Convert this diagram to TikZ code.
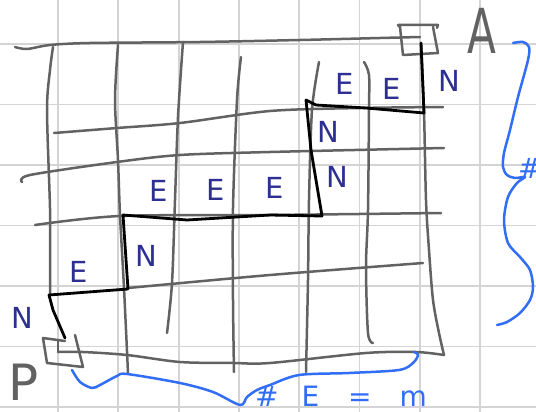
\documentclass[tikz,border=0pt]{standalone}
\usepackage{fontspec}
\setmainfont{DejaVu Sans}
\definecolor{paper}{RGB}{212,212,212}
\definecolor{pen}{RGB}{98,98,98}
\definecolor{ink}{RGB}{45,48,145}
\definecolor{bluepen}{RGB}{50,110,245}
\begin{document}
\begin{tikzpicture}[x=1pt,y=-1pt,line cap=round,line join=round,
  gridpaper/.style={draw=paper,line width=1.8pt},
  pencil/.style={draw=pen,line width=2.5pt},
  walk/.style={draw=black,line width=2.8pt},
  bracepen/.style={draw=bluepen,line width=2.5pt},
  lab/.style={text=ink,font=\fontsize{29}{29}\selectfont,inner sep=0pt},
  corner/.style={text=pen,inner sep=0pt}]
\useasboundingbox (0,0) rectangle (536,412);
\clip (0,0) rectangle (536,412);
\fill[white] (0,0) rectangle (536,412);
% graph paper
\foreach \k in {-1,...,8} \draw[gridpaper] ({58+60.3*\k},0) -- ({58+60.3*\k},412);
\foreach \k in {-1,...,6} \draw[gridpaper] (0,{44+60.5*\k}) -- (536,{44+60.5*\k});
% hand drawn horizontal lines
\draw[pencil] plot[smooth] coordinates {(15,47) (27,49) (50,45) (90,43) (200,42) (300,40) (380,38) (420,37)};
\draw[pencil] plot[smooth] coordinates {(54,133) (117,128) (180,123) (270,111) (360,108) (443,107)};
\draw[pencil] plot[smooth] coordinates {(22,182) (30,175) (117,162) (180,155) (270,152) (444,148)};
\draw[pencil] plot[smooth] coordinates {(35,225) (120,216) (270,215) (441,213)};
\draw[pencil] plot[smooth] coordinates {(128,288) (270,275) (423,263)};
\draw[pencil] plot[smooth] coordinates {(58,352) (83,352) (127,355) (180,362) (233,363) (270,363) (366,353) (416,352) (444,355)};
% hand drawn vertical lines
\draw[pencil] plot[smooth] coordinates {(53,47) (50,70) (47,110) (50,208) (50,250) (50,295)};
\draw[pencil] plot[smooth] coordinates {(118,45) (115,100) (118,160) (120,215) (124,288) (128,373)};
\draw[pencil] plot[smooth] coordinates {(183,42) (178,117) (175,200) (172,283) (167,333)};
\draw[pencil] plot[smooth] coordinates {(241,57) (237,100) (233,208) (233,300) (234,372)};
\draw[pencil] plot[smooth] coordinates {(319,62) (312,110) (309,200) (308,280) (306,372)};
\draw[pencil] plot[smooth] coordinates {(364,62) (369,75) (369,110) (368,210) (366,267) (368,333) (373,343)};
\draw[pencil] plot[smooth] coordinates {(421,43) (424,112) (426,200) (429,250) (433,300) (439,333) (444,355)};
\draw[pencil] (58,340) -- (58,352);
% corner squares
\draw[pencil] (437,28) -- (438,25) -- (398,25) -- (400,27) -- (403,55) -- (438,53) -- (433,27);
\draw[pencil] (65,341) -- (43,338) -- (47,363) -- (83,367) -- (75,335);
% the walk
\draw[walk] (65,338) -- (53,310) -- (49,295) -- (128,289) -- (123,215) -- (187,220) -- (270,215) -- (322,216) -- (311,150) -- (306,100) -- (316,105) -- (366,108) -- (424,113) -- (421,43);
% labels on the walk
\node[lab] (n1) at (22,318) {N};
\node[lab] (e1) at (79,272) {E};
\node[lab] (n2) at (146,256) {N};
\node[lab] (e2) at (159,191) {E};
\node[lab] (e3) at (216,190) {E};
\node[lab] (e4) at (275,188) {E};
\node[lab] (n3) at (337,177) {N};
\node[lab] (n4) at (328,132) {N};
\node[lab] (e5) at (345,84) {E};
\node[lab] (e6) at (392,89) {E};
\node[lab] (n5) at (449,81) {N};
% corner letters
\node[corner,font=\fontsize{62}{62}\selectfont] (A) at (482,31) {\scalebox{0.68}[1]{A}};
\node[corner,font=\fontsize{50}{50}\selectfont,anchor=base] (P) at (24,400) {P};
% blue braces
\draw[bracepen] plot[smooth] coordinates {(513,43) (523,42) (529,47) (528,60) (518,97) (510,130) (504,153) (503,167) (507,175) (515,178) (525,177) (517,183) (508,197) (504,220) (508,243) (520,257) (530,270) (533,287) (530,300) (520,313) (507,322) (497,325)};
\draw[bracepen] plot[smooth] coordinates {(72,370) (80,382) (92,388) (100,385) (117,376) (127,374) (180,383) (213,392) (240,405) (247,397) (257,390) (270,385) (299,375) (349,373) (399,370) (413,363) (418,355) (414,352)};
\node[text=bluepen,font=\fontsize{28}{28}\selectfont,inner sep=0pt,anchor=west] (hashn) at (518,168) {\#};
\node[text=bluepen,font=\fontsize{28}{28}\selectfont,inner sep=0pt,anchor=base] (count) at (341,406) {\#\hspace{23pt}E\hspace{29pt}=\hspace{28pt}m};
\end{tikzpicture}
\end{document}
